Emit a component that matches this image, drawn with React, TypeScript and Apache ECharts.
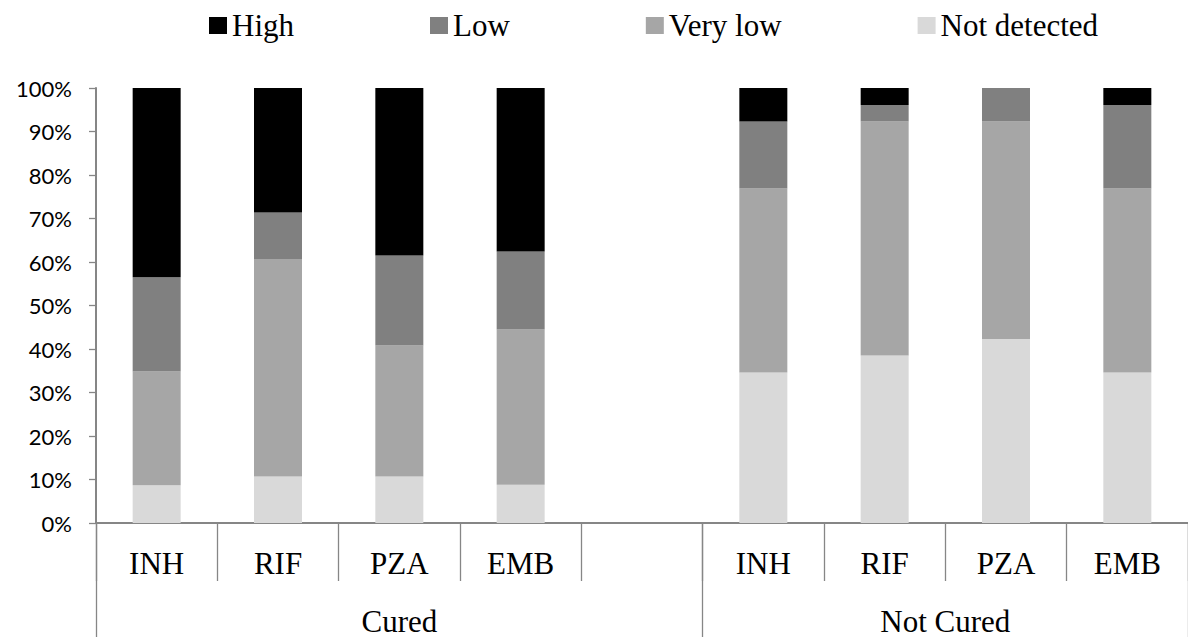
import React, { useEffect, useRef } from "react";
import * as echarts from "echarts";

const categories = ["INH", "RIF", "PZA", "EMB", "", "INH", "RIF", "PZA", "EMB"];
const groupNames = ["Cured", "Not Cured"];
const groupSizes = [5, 4];

const notDetected = [8.7, 10.7, 10.7, 8.8, null, 34.6, 38.5, 42.3, 34.6];
const veryLow = [26.1, 50.0, 30.1, 35.7, null, 42.3, 53.8, 50.0, 42.3];
const low = [21.7, 10.7, 20.7, 17.9, null, 15.4, 3.8, 7.7, 19.2];
const high = [43.5, 28.6, 38.5, 37.6, null, 7.7, 3.9, 0, 3.9];

const seriesNames = ["Not detected", "Very low", "Low", "High"];
const seriesColors = ["#d9d9d9", "#a6a6a6", "#808080", "#000000"];
const seriesValues = [notDetected, veryLow, low, high];
const legendOrder = ["High", "Low", "Very low", "Not detected"];

const yTicks = [0, 100, 10];

export default function App() {
  const ref = useRef<HTMLDivElement>(null);
  useEffect(() => {
    if (!ref.current) return;
    const chart = echarts.init(ref.current, null, { renderer: "svg" });
    const boundaries: number[] = [0];
    groupSizes.forEach((s) => boundaries.push(boundaries[boundaries.length - 1] + s));
    const centers = groupSizes.map((s, i) => boundaries[i] + s / 2);
    const total = boundaries[boundaries.length - 1];
    const serif = "Liberation Serif, Times New Roman, serif";
    const axisGrey = "#868686";
    chart.setOption({
      animation: false,
      backgroundColor: "#ffffff",
      legend: {
        data: legendOrder,
        left: 209,
        top: 10,
        padding: 0,
        icon: "rect",
        itemWidth: 18,
        itemHeight: 17,
        itemGap: 136,
        textStyle: { fontFamily: serif, fontSize: 31, color: "#000" },
      },
      grid: { left: 96, top: 88, width: 1101, height: 435, containLabel: false },
      xAxis: [
        {
          type: "category",
          data: categories,
          position: "bottom",
          axisLine: { onZero: false, lineStyle: { color: axisGrey, width: 2 } },
          axisTick: { show: true, interval: 0, length: 58, lineStyle: { color: axisGrey, width: 1.3 } },
          axisLabel: { interval: 0, margin: 25, fontFamily: serif, fontSize: 31, color: "#000" },
        },
        {
          type: "value",
          min: 0,
          max: total,
          position: "bottom",
          axisLine: { show: false, onZero: false },
          splitLine: { show: false },
          axisTick: {
            show: true,
            customValues: boundaries,
            length: 114,
            lineStyle: { color: axisGrey, width: 1.3 },
          },
          axisLabel: {
            customValues: centers,
            margin: 83,
            fontFamily: serif,
            fontSize: 31,
            lineHeight: 30,
            color: "#000",
            formatter: (v: number) => {
              const idx = centers.findIndex((c) => Math.abs(c - v) < 1e-6);
              return idx >= 0 ? groupNames[idx] : "";
            },
          },
        },
      ],
      yAxis: {
        type: "value",
        min: yTicks[0],
        max: yTicks[1],
        interval: yTicks[2],
        axisLine: { show: true, lineStyle: { color: axisGrey, width: 2 } },
        axisTick: { show: true, length: 7, lineStyle: { color: axisGrey, width: 1.3 } },
        splitLine: { show: false },
        axisLabel: {
          formatter: "{value}%",
          margin: 24,
          fontFamily: "Lato, Calibri, sans-serif",
          fontSize: 22,
          color: "#000",
        },
      },
      series: seriesNames.map((name, i) => ({
        name,
        type: "bar",
        stack: "total",
        xAxisIndex: 0,
        barWidth: 48,
        itemStyle: { color: seriesColors[i] },
        data: seriesValues[i].map((v) => (v === null ? "-" : v)),
      })),
    });
    return () => chart.dispose();
  }, []);
  return (
    <div
      ref={ref}
      style={{ position: "fixed", left: 0, top: 0, width: 1188, height: 637, background: "#fff" }}
    />
  );
}
